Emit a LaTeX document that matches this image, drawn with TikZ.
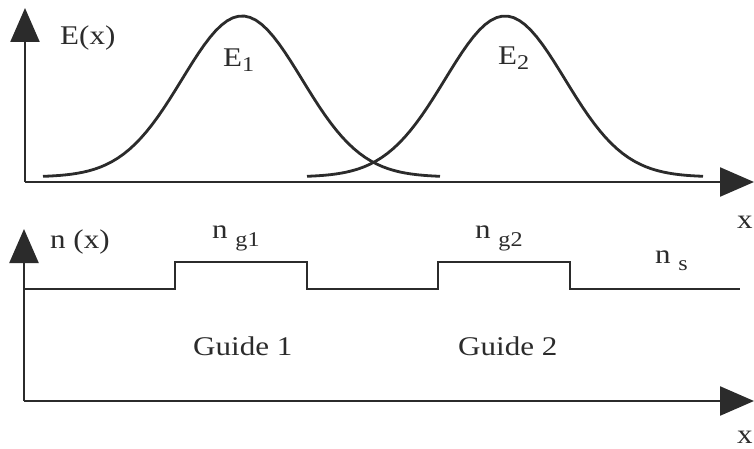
\documentclass[tikz,border=0pt]{standalone}
\usepackage{fontspec}
\setmainfont{Liberation Serif}[FakeStretch=1.15]
\usepackage{tikz}
\usetikzlibrary{arrows.meta}
\definecolor{ink}{HTML}{2b2b2b}
\newcommand{\lowsub}[2]{\raisebox{-#1}{\fontsize{21}{21}\selectfont #2}}

\begin{document}
\begin{tikzpicture}[x=1pt, y=-1pt,
  axis/.style={draw=ink, line width=2.4pt, -{Triangle[length=34pt, width=29pt]}},
  curve/.style={draw=ink, line width=2.8pt, line join=round},
  profile/.style={draw=ink, line width=2.4pt},
  lbl/.style={anchor=base west, inner sep=0pt, text=ink, font=\fontsize{27}{27}\selectfont}]
  \useasboundingbox (0,0) rectangle (754,449);
  % field plot
  \coordinate (oE) at (25,182);
  \coordinate (yE) at (25,8);
  \coordinate (xE) at (754,182);
  \draw[axis] (oE) -- (yE);
  \draw[axis] (oE) -- (xE);
  \foreach \c/\a/\b in {242/43/440, 505/307/703}{
    \draw[curve] plot[domain=\a:\b, samples=70] (\x, {177-161*exp(-((\x-\c)/60)^2/2)});
  }
  \node[lbl] (lE) at (60,45) {E(x)};
  \node[lbl] (lE1) at (223,67) {E\lowsub{5pt}{1}};
  \node[lbl] (lE2) at (498,65) {E\lowsub{5pt}{2}};
  \node[lbl] (lxE) at (737,228) {x};
  % index profile
  \coordinate (on) at (24,401);
  \coordinate (yn) at (24,229);
  \coordinate (xn) at (754,401);
  \draw[axis] (on) -- (yn);
  \draw[axis] (on) -- (xn);
  \draw[profile] (24,289) -- (175,289) -- (175,262) -- (307,262) -- (307,289)
    -- (438,289) -- (438,262) -- (570,262) -- (570,289) -- (740,289);
  \node[lbl] (ln) at (50,248) {n (x)};
  \node[lbl] (lg1) at (212,238) {n \lowsub{8pt}{g1}};
  \node[lbl] (lg2) at (475,238) {n \lowsub{8pt}{g2}};
  \node[lbl] (ls) at (655,263) {n \lowsub{7pt}{s}};
  \node[lbl] (gd1) at (193,355) {Guide 1};
  \node[lbl] (gd2) at (458,355) {Guide 2};
  \node[lbl] (lxn) at (737,443) {x};
\end{tikzpicture}
\end{document}
